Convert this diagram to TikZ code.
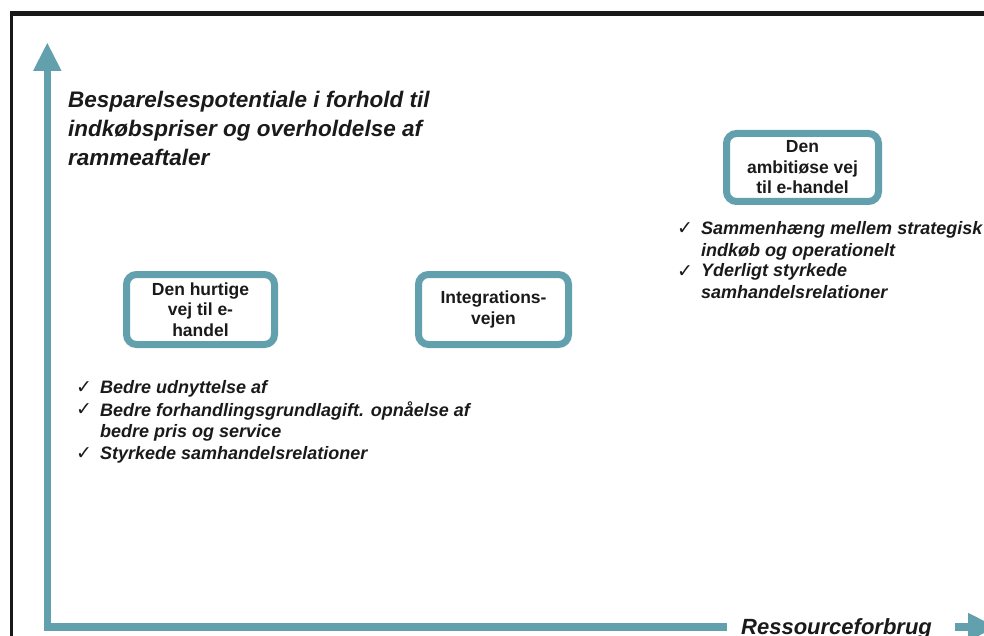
\documentclass[tikz,border=0pt]{standalone}
\usepackage{fontspec}
\setmainfont{Liberation Sans}
\newfontfamily\symfont{DejaVu Sans}
\definecolor{axisteal}{RGB}{99,160,174}
\definecolor{ink}{RGB}{26,26,26}

\begin{document}
\begin{tikzpicture}[x=1pt,y=-1pt,
  stagebox/.style={draw=axisteal, line width=7pt, rounded corners=10pt, fill=white,
    align=center, text=ink, inner sep=0pt,
    font=\fontsize{17.5}{20.5}\selectfont\bfseries},
  headline/.style={anchor=base west, inner sep=0pt, align=left, text=ink,
    font=\fontsize{22.5}{29}\selectfont\bfseries\itshape},
  tick/.style={anchor=base west, inner sep=0pt, text=ink,
    font=\symfont\fontsize{19}{22}\selectfont},
  point/.style={anchor=base west, inner sep=0pt, align=left, text=ink,
    font=\fontsize{18}{21}\selectfont\bfseries\itshape},
  axisline/.style={draw=axisteal, line width=7.6pt},
  axishead/.style={fill=axisteal, draw=none}
]
\useasboundingbox (0,0) rectangle (984,636);

% frame
\draw[line width=5pt, black!90] (10,13.5) -- (984,13.5);
\draw[line width=2.4pt, black!90] (11.3,11) -- (11.3,636);

% axes
\coordinate (origin) at (47.3,627);
\coordinate (ytop) at (47.3,71);
\node[anchor=base west, inner sep=0pt, text=ink,
  font=\fontsize{22}{26}\selectfont\bfseries\itshape] (xlabel) at (741,634) {Ressourceforbrug};
\coordinate (xend) at (727,627);
\coordinate (xstub) at (955,627);
\coordinate (xhead) at (968,627);
\draw[axisline] (ytop) -- (origin -| ytop) -- (xend);
\fill[axishead] (47.3,43) -- (61.6,71) -- (33,71) -- cycle;
\draw[axisline] (xstub) -- (xhead);
\fill[axishead] (xhead) ++(0,-14.2) -- ++(28,14.2) -- ++(-28,14.2) -- cycle;

% vertical axis caption (base = last line)
\node[headline] (ylabel) at (68,166) {Besparelsespotentiale i forhold til\\indkøbspriser og overholdelse af\\rammeaftaler};

% stages
\node[stagebox, minimum width=148pt, minimum height=70pt] (fast) at (200.5,309.5)
  {Den hurtige\\vej til e-\\handel};
\node[stagebox, minimum width=150pt, minimum height=70pt] (integ) at (493.5,309.5)
  {Integrations-\\vejen};
\node[stagebox, minimum width=152pt, minimum height=68pt] (ambit) at (802.5,167.5)
  {Den\\ambitiøse vej\\til e-handel};

% benefits of the fast route (base = last line)
\node[tick] (c1) at (76,393) {✓};
\node[point] (p1) at (100,393) {Bedre udnyttelse af};
\node[tick] (c2) at (76,415) {✓};
\node[point] (p2) at (100,437) {Bedre forhandlingsgrundlagift. opnåelse af\\bedre pris og service};
\node[tick] (c3) at (76,459) {✓};
\node[point] (p3) at (100,459) {Styrkede samhandelsrelationer};

% benefits of the ambitious route
\node[tick] (c4) at (677,235) {✓};
\node[point] (p4) at (701,256) {Sammenhæng mellem strategisk\\indkøb og operationelt};
\node[tick] (c5) at (677,277) {✓};
\node[point] (p5) at (701,298) {Yderligt styrkede\\samhandelsrelationer};
\end{tikzpicture}
\end{document}
